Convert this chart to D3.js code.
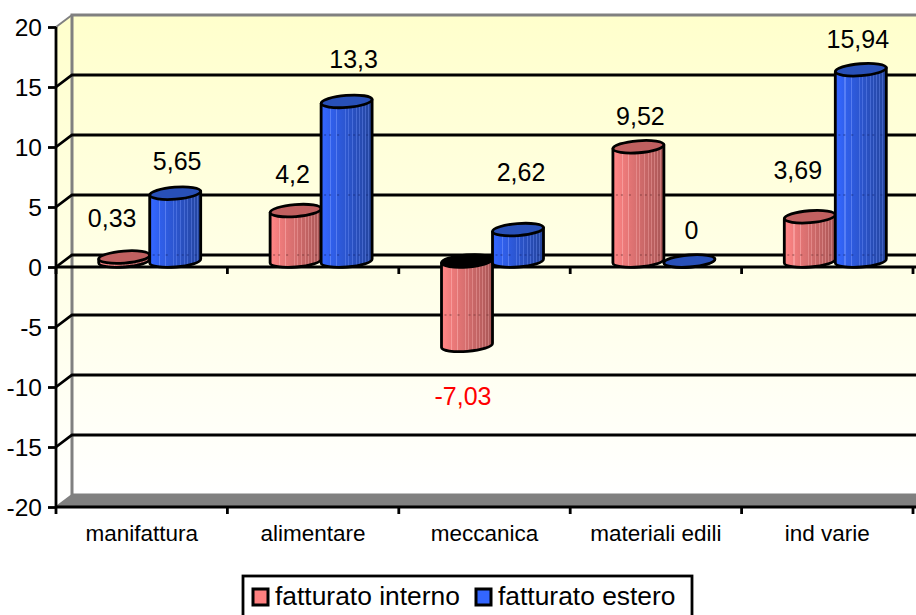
<!DOCTYPE html>
<html><head><meta charset="utf-8">
<script src="https://cdn.jsdelivr.net/npm/d3@7/dist/d3.min.js"></script>
<style>html,body{margin:0;background:#fff}svg{display:block;font-family:"Liberation Sans",Arial,sans-serif}</style>
</head><body><svg id="c" width="916" height="615"></svg>
<script>
const categories = ["manifattura","alimentare","meccanica","materiali edili","ind varie"];
const seriesNames = ["fatturato interno","fatturato estero"];
const interno = [0.33,4.2,-7.03,9.52,3.69];
const estero = [5.65,13.3,2.62,0,15.94];
const yTicks = [-20,-15,-10,-5,0,5,10,15,20];
const fmt = v => String(v).replace(".",",");

const svg = d3.select("#c");
const W = 916;
const dx = 16, dy = -12, SW = 2.8;
const y = d3.scaleLinear().domain([-20,20]).range([507,27]);
const x0 = d3.scaleBand().domain(categories).range([56,913]);
const x1 = d3.scaleBand().domain([0,1]).range([0,102]);
const barPad = (x0.bandwidth()-102)/2 + dx/2;
const defs = svg.append("defs");

const wall = defs.append("linearGradient").attr("id","wall").attr("x1",0).attr("x2",0).attr("y1",0).attr("y2",1);
wall.append("stop").attr("offset",0).attr("stop-color","#ffffcc");
wall.append("stop").attr("offset",1).attr("stop-color","#ffffff");

function cylGrad(id, stops){
  const g = defs.append("linearGradient").attr("id",id);
  stops.forEach(s=>g.append("stop").attr("offset",s[0]).attr("stop-color",s[1]));
}
function stripes(light,mid,dark,hi){
  const c = d3.interpolateRgb(light,dark);
  const st=[[0,mid],[0.05,light]];
  [0.18,0.3,0.46,0.52,0.6,0.68,0.74,0.8,0.86,0.92].forEach((o,i)=>{
    const h=d3.interpolateRgb(c(o),hi)(i<2?0.5:0.35);
    st.push([o,c(o)],[o,h],[o+0.02,h],[o+0.02,c(o+0.02)]);
  });
  st.push([1,dark]);
  return st;
}
cylGrad("red",stripes("#ff8484","#f47c7c","#a85656","#ffb8b8"));
cylGrad("blue",stripes("#3366ff","#2e5cea","#24449c","#7c9cff"));
const fills = [{body:"url(#red)",top:"#c06060",key:"#ff8080",tick:"#7a3a3a"},{body:"url(#blue)",top:"#2850b8",key:"#3366ff",tick:"#1a3080"}];

// wall, side wall, floor
svg.append("rect").attr("x",56+dx).attr("y",y(20)+dy).attr("width",W-56-dx).attr("height",y(-20)-y(20)).attr("fill","url(#wall)");
svg.append("path").attr("d",`M56,${y(20)}L${56+dx},${y(20)+dy}V${y(-20)+dy}L56,${y(-20)}Z`).attr("fill","url(#wall)");
svg.append("path").attr("d",`M56,${y(-20)}L${56+dx},${y(-20)+dy}H${W}V${y(-20)}Z`).attr("fill","#808080");
svg.append("path").attr("d",`M${W},${y(20)+dy}H${56+dx}V${y(-20)+dy}H${W}`).attr("fill","none").attr("stroke","#808080").attr("stroke-width",3);
svg.append("path").attr("d",`M56,${y(20)}L${56+dx},${y(20)+dy}M56,${y(-20)}L${56+dx},${y(-20)+dy}`).attr("stroke","#808080").attr("stroke-width",2).attr("fill","none");

// gridlines
yTicks.filter(t=>t>-20&&t<20).forEach(t=>{
  svg.append("path").attr("d",`M56,${y(t)}L${56+dx},${y(t)+dy}H${W}`).attr("fill","none").attr("stroke","#000").attr("stroke-width",SW);
});

// axes
const axisLeft = d3.axisLeft(y).tickValues(yTicks).tickSize(8).tickPadding(6).tickFormat(d=>String(d));
const ga = svg.append("g").attr("transform","translate(56,0)").call(axisLeft);
ga.select(".domain").attr("stroke-width",SW).attr("d",`M0,${y(20)}V${y(-20)}`);
ga.selectAll(".tick line").attr("stroke-width",SW);
ga.selectAll("text").attr("font-size",24.5).attr("fill","#000").attr("dy","0.36em").attr("font-family","Liberation Sans");

const tickVals = categories.map(c=>x0(c)).concat([x0.range()[1]]);
function xAxisAt(v){
  const g = svg.append("g").attr("transform",`translate(0,${y(v)})`);
  g.append("path").attr("d",`M56,0H${W}`).attr("stroke","#000").attr("stroke-width",SW).attr("fill","none");
  g.selectAll("line").data(tickVals).join("line").attr("x1",d=>d).attr("x2",d=>d).attr("y1",0).attr("y2",7).attr("stroke","#000").attr("stroke-width",SW);
}
xAxisAt(0);
xAxisAt(-20);
svg.selectAll("text.cat").data(categories).join("text").attr("class","cat")
  .attr("x",d=>x0(d)+x0.bandwidth()/2).attr("y",541).attr("text-anchor","middle").attr("font-size",22.5).text(d=>d);

// cylinders
const rx = 25.5, ry = 6, baseY = y(0)-6, tilt = -4.5;
const barX = (c,s)=>x0(c)+barPad+x1(s);
function drawBar(c,s,v){
  const g = svg.append("g");
  const xl = barX(c,s), xc = xl+rx, h = Math.abs(y(v)-y(0));
  const neg = v<0;
  const yTop = neg ? baseY : baseY-h;
  const yBot = neg ? baseY+h : baseY;
  const sin = Math.sin(tilt*Math.PI/180)*rx;
  const xr = xl+2*rx;
  g.append("path")
    .attr("d",`M${xl},${yTop-sin}L${xl},${yBot-sin}A${rx},${ry} ${tilt} 0 0 ${xr},${yBot+sin}L${xr},${yTop+sin}Z`)
    .attr("fill",fills[s].body).attr("stroke","#000").attr("stroke-width",SW).attr("stroke-linejoin","round");
  // back gridlines faintly ticking through the cylinder
  yTicks.map(t=>y(t)+dy).filter(p=>p>yTop+ry && p<yBot).forEach(p=>{
    g.append("line").attr("x1",xl+3).attr("x2",xr-2).attr("y1",p).attr("y2",p)
      .attr("stroke",fills[s].tick).attr("stroke-opacity",0.55).attr("stroke-width",1.6).attr("stroke-dasharray","2 3 2 6 2 9 2 3");
  });
  g.append("ellipse").attr("cx",xc).attr("cy",yTop).attr("rx",rx).attr("ry",ry)
    .attr("transform",`rotate(${tilt} ${xc} ${yTop})`)
    .attr("fill",neg?"#000":fills[s].top).attr("stroke","#000").attr("stroke-width",SW);
}
categories.forEach((c,i)=>{ drawBar(c,0,interno[i]); drawBar(c,1,estero[i]); });

// value labels (hand-placed in the source chart; offsets from the cylinder top)
const lblDx = [[-12,-3,-4,2,-12],[2,7,3,2,-3]];
const lblDy = [[-30,-28,60,-22,-38],[-23,-33,-49,-22,-22]];
function valueLabels(vals,s){
  vals.forEach((v,i)=>{
    const c = categories[i];
    const xp = barX(c,s)+rx+lblDx[s][i];
    const top = v<0 ? baseY+Math.abs(y(v)-y(0)) : baseY-Math.abs(y(v)-y(0));
    svg.append("text").attr("x",xp).attr("y",top+lblDy[s][i]).attr("text-anchor","middle").attr("font-size",25)
      .attr("fill",v<0?"#ff0000":"#000").text(fmt(v));
  });
}
valueLabels(interno,0);
valueLabels(estero,1);

// legend
const leg = svg.append("g");
leg.append("rect").attr("x",243).attr("y",576).attr("width",449).attr("height",44).attr("fill","#fff").attr("stroke","#000").attr("stroke-width",SW);
const legX = [253,476];
seriesNames.forEach((n,i)=>{
  leg.append("rect").attr("x",legX[i]).attr("y",589).attr("width",15).attr("height",16).attr("fill",fills[i].key).attr("stroke","#000").attr("stroke-width",3);
  leg.append("text").attr("x",legX[i]+22).attr("y",605).attr("font-size",26.4).text(n);
});
</script></body></html>
